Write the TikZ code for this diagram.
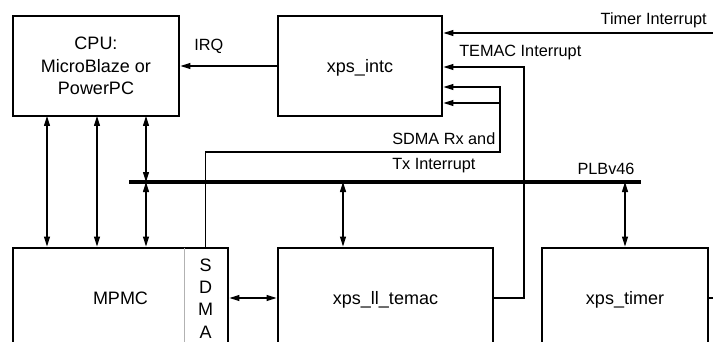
\documentclass[tikz,border=0pt]{standalone}
\usepackage{fontspec}
\setmainfont{Liberation Sans}
\usetikzlibrary{arrows.meta}

\begin{document}
\begin{tikzpicture}[
  x=0.75pt, y=-0.75pt,
  every node/.style={inner sep=0pt, font=\fontsize{12.2}{16.7}\selectfont},
  blk/.style={draw, line width=2.2pt, minimum height=75pt, text height=9.7pt, text depth=0pt,
    font=\fontsize{13.5}{16.7}\selectfont},
  wire/.style={line width=1pt},
  arr/.style={line width=0.8pt, -{Triangle[length=7.5pt,width=4.5pt]}},
  arrs/.style={line width=0.8pt, {Triangle[length=7.5pt,width=4.5pt]}-{Triangle[length=7.5pt,width=4.5pt]}},
  bus/.style={line width=2.4pt}
]
  \useasboundingbox (0,0) rectangle (713,342);

  % blocks
  \node[blk, minimum width=124.5pt, text height=, text depth=, align=center] (cpu) at (96,66) {CPU:\\MicroBlaze or\\PowerPC};
  \node[blk, minimum width=123pt] (intc) at (360,66) {xps\_intc};
  \node[blk, minimum width=161.25pt] (mpmc) at (120.5,298) {MPMC};
  \node[blk, minimum width=161.25pt] (temac) at (385.5,298) {xps\_ll\_temac};
  \node[blk, minimum width=124.5pt] (timer) at (625,298) {xps\_timer};
  \node[align=center, font=\fontsize{13.5}{16.7}\selectfont] (sdma) at (205.7,298.5) {S\\D\\M\\A};
  \coordinate (sdmaL) at (184,248);
  \draw[gray!60, line width=0.6pt] (sdmaL) -- (sdmaL |- mpmc.south);

  % bus
  \coordinate (busL) at (129,182);
  \coordinate (busR) at (641,182);
  \draw[bus] (busL) -- (busR);
  \node[anchor=base] (plb) at (606,175) {PLBv46};

  % cpu <-> mpmc / bus
  \coordinate (c1) at (47,116);
  \coordinate (c2) at (97,116);
  \coordinate (c3) at (146,116);
  \draw[arrs] (c1) -- (c1 |- mpmc.north);
  \draw[arrs] (c2) -- (c2 |- mpmc.north);
  \draw[arrs] (c3) -- (c3 |- busL);
  \draw[arrs] (c3 |- busL) -- (c3 |- mpmc.north);

  % bus <-> slaves
  \coordinate (t1) at (343,182);
  \draw[arrs] (t1) -- (t1 |- temac.north);
  \draw[arrs] (timer.north |- busL) -- (timer.north);
  \draw[arrs] (mpmc) -- (temac);

  % interrupts
  \draw[arr] (intc) -- (cpu);
  \node[anchor=base west] (irq) at (194,50.5) {IRQ};

  \coordinate (tin) at (713,33);
  \draw[arr] (tin) -- (tin -| intc.east);
  \node[anchor=base east] (tmrirq) at (707,24.5) {Timer Interrupt};
  \coordinate (tout) at (713,298);
  \draw[wire] (timer) -- (tout);

  \coordinate (tmi) at (524,67);
  \draw[arr, line width=1pt] (temac.east) -| (tmi) -- (tmi -| intc.east);
  \node[anchor=base west] (temirq) at (459,56.5) {TEMAC Interrupt};

  \coordinate (sd) at (205.7,152);
  \coordinate (sdr) at (500,87);
  \coordinate (sdr2) at (500,103);
  \draw[arr, line width=1pt] (sd |- mpmc.north) -- (sd) -| (sdr) -- (sdr -| intc.east);
  \draw[arr, line width=1pt] (sdr2) -- (sdr2 -| intc.east);
  \node[anchor=base west] (sdirq) at (392,145) {SDMA Rx and};
  \node[anchor=base west] (sdirq2) at (392,170) {Tx Interrupt};
\end{tikzpicture}
\end{document}
